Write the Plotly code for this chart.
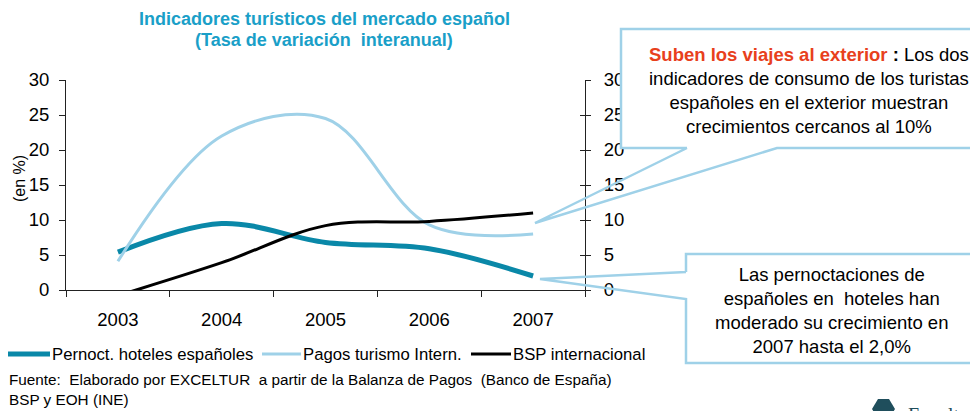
import plotly.graph_objects as go

# %%
# Data (tasa de variación interanual, %)
years = ["2003", "2004", "2005", "2006", "2007"]
pernoct_hoteles = [5.4, 9.5, 6.8, 5.9, 2.0]
pagos_turismo = [4.1, 22.0, 24.5, 9.3, 8.0]
bsp_internacional = [-0.8, 3.9, 9.2, 9.8, 11.0]

y_ticks = [0, 5, 10, 15, 20, 25, 30]

# %%
# Layout helpers: in page pixels the plot area spans 66..585 (x) and 80..290 (y).
# The page body has an 8px margin, so the figure itself starts at (8, 8).
W, H = 978, 411
OFF = 8
L, R, T, B = 66, 585, 80, 290
FONT = "Liberation Sans, Arial, sans-serif"
TEAL = "#0a88a8"
LIGHT = "#9fd1e8"
TITLE_BLUE = "#1a9fc8"


def px(x):
    return (x - L) / (R - L)


def py(y):
    return (B - y) / (B - T)


fig = go.Figure()

series = [
    ("Pernoct. hoteles españoles", pernoct_hoteles, TEAL, 5),
    ("Pagos turismo Intern.", pagos_turismo, LIGHT, 3),
    ("BSP internacional", bsp_internacional, "#000000", 3),
]

for name, values, color, width in series:
    fig.add_trace(
        go.Scatter(
            x=years,
            y=values,
            name=name,
            mode="lines",
            line=dict(color=color, width=width, shape="spline", smoothing=1.0),
            showlegend=False,
        )
    )

fig.update_layout(
    width=W,
    height=H,
    margin=dict(l=L - OFF, r=W - (R - OFF), t=T - OFF, b=H - (B - OFF), pad=0),
    paper_bgcolor="white",
    plot_bgcolor="rgba(0,0,0,0)",
    font=dict(family=FONT, color="#000000", size=18),
    xaxis=dict(
        type="category",
        range=[-0.5, 4.5],
        tickson="boundaries",
        ticks="outside",
        ticklen=6,
        tickcolor="#222",
        showline=True,
        linecolor="#222",
        showgrid=False,
        zeroline=False,
        ticklabelstandoff=13,
        tickfont=dict(size=18.5),
    ),
    yaxis=dict(
        range=[0, 30],
        tickvals=y_ticks,
        ticks="outside",
        ticklen=6,
        tickcolor="#222",
        showline=True,
        linecolor="#222",
        showgrid=False,
        zeroline=False,
        ticklabelstandoff=6,
        tickfont=dict(size=18.5),
    ),
    yaxis2=dict(
        overlaying="y",
        side="right",
        range=[0, 30],
        tickvals=y_ticks,
        ticks="outside",
        ticklen=5,
        tickcolor="#222",
        showline=True,
        linecolor="#222",
        showgrid=False,
        zeroline=False,
        ticklabelstandoff=9,
        tickfont=dict(size=18.5),
    ),
    yaxis3=dict(
        overlaying="y",
        side="right",
        range=[0, 30],
        tickvals=y_ticks,
        ticks="inside",
        ticklen=5,
        tickcolor="#222",
        showticklabels=False,
        showline=False,
        showgrid=False,
        zeroline=False,
    ),
)

# invisible traces so the right-hand axes are drawn
for ax in ["y2", "y3"]:
    fig.add_trace(
        go.Scatter(x=years, y=bsp_internacional, yaxis=ax, mode="lines",
                   line=dict(width=0), hoverinfo="skip", showlegend=False)
    )

annotations = []

# title
annotations.append(dict(
    text="<b>Indicadores turísticos del mercado español</b>",
    x=px(324), y=py(19.5), xref="paper", yref="paper", showarrow=False,
    font=dict(size=18, color=TITLE_BLUE), xanchor="center", yanchor="middle",
))
annotations.append(dict(
    text="<b>(Tasa de variación  interanual)</b>",
    x=px(324), y=py(39.5), xref="paper", yref="paper", showarrow=False,
    font=dict(size=18, color=TITLE_BLUE), xanchor="center", yanchor="middle",
))

# y axis title
annotations.append(dict(
    text="(en %)", textangle=-90, x=px(19), y=py(179), xref="paper", yref="paper",
    showarrow=False, font=dict(size=16), xanchor="center", yanchor="middle",
))

# legend drawn by hand to match the original spacing
legend_items = [
    ("Pernoct. hoteles españoles", TEAL, 5, 8, 50),
    ("Pagos turismo Intern.", LIGHT, 3, 262, 301),
    ("BSP internacional", "#000000", 3, 471, 511),
]
shapes = []
for label, color, width, x0, x1 in legend_items:
    shapes.append(dict(type="line", xref="paper", yref="paper",
                       x0=px(x0), x1=px(x1), y0=py(354), y1=py(354),
                       line=dict(color=color, width=width)))
    annotations.append(dict(
        text=label, x=px(x1), y=py(354), xref="paper", yref="paper",
        showarrow=False, font=dict(size=16.7), xanchor="left", yanchor="middle",
    ))

# source note
annotations.append(dict(
    text="Fuente:  Elaborado por EXCELTUR  a partir de la Balanza de Pagos  (Banco de España)",
    x=px(7), y=py(379), xref="paper", yref="paper", showarrow=False,
    font=dict(size=15.3), xanchor="left", yanchor="middle",
))
annotations.append(dict(
    text="BSP y EOH (INE)",
    x=px(7), y=py(399), xref="paper", yref="paper", showarrow=False,
    font=dict(size=15.3), xanchor="left", yanchor="middle",
))

# callout 1 (viajes al exterior)
shapes.append(dict(type="rect", xref="paper", yref="paper", layer="above",
                   x0=px(621), x1=px(990), y0=py(29), y1=py(148),
                   fillcolor="white", line=dict(width=0)))
path1 = " ".join([
    f"M{px(687)},{py(148)}", f"L{px(621)},{py(148)}", f"L{px(621)},{py(29)}",
    f"L{px(990)},{py(29)}", f"L{px(990)},{py(148)}", f"L{px(777)},{py(148)}",
    f"L{px(535)},{py(223)}", f"L{px(687)},{py(148)}",
])
shapes.append(dict(type="path", path=path1, xref="paper", yref="paper",
                   layer="above", line=dict(color=LIGHT, width=2.5)))
annotations.append(dict(
    text=("<b><span style='color:#e8401c'>Suben los viajes al exterior</span> :</b> Los dos<br>"
          "indicadores de consumo de los turistas<br>"
          "españoles en el exterior muestran<br>"
          "crecimientos cercanos al 10%"),
    x=px(809), y=py(90), xref="paper", yref="paper", showarrow=False,
    font=dict(size=18.5), xanchor="center", yanchor="middle", align="center",
))

# callout 2 (pernoctaciones)
shapes.append(dict(type="rect", xref="paper", yref="paper", layer="above",
                   x0=px(686), x1=px(977), y0=py(254), y1=py(363),
                   fillcolor="white", line=dict(width=0)))
path2 = " ".join([
    f"M{px(686)},{py(272)}", f"L{px(686)},{py(254)}", f"L{px(977)},{py(254)}",
    f"L{px(977)},{py(363)}", f"L{px(686)},{py(363)}", f"L{px(686)},{py(299)}",
    f"L{px(540)},{py(279)}", f"L{px(686)},{py(272)}",
])
shapes.append(dict(type="path", path=path2, xref="paper", yref="paper",
                   layer="above", line=dict(color=LIGHT, width=2.5)))
annotations.append(dict(
    text=("Las pernoctaciones de<br>"
          "españoles en  hoteles han<br>"
          "moderado su crecimiento en<br>"
          "2007 hasta el 2,0%"),
    x=px(831), y=py(310), xref="paper", yref="paper", showarrow=False,
    font=dict(size=18.5), xanchor="center", yanchor="middle", align="center",
))

# logo fragment, bottom right (cut by the page edge as in the original)
hexagon = " ".join([
    f"M{px(878)},{py(399)}", f"L{px(889)},{py(399)}", f"L{px(895)},{py(409)}",
    f"L{px(889)},{py(419)}", f"L{px(878)},{py(419)}", f"L{px(872)},{py(409)}", "Z",
])
shapes.append(dict(type="path", path=hexagon, xref="paper", yref="paper",
                   fillcolor="#1f4e5c", line=dict(width=0)))
annotations.append(dict(
    text="Exceltur", x=px(906), y=py(402), xref="paper", yref="paper",
    showarrow=False, font=dict(size=20, color="#1f4e5c", family="Liberation Serif, serif"),
    xanchor="left", yanchor="top",
))

fig.update_layout(shapes=shapes, annotations=annotations)

fig.write_html("out.html")
